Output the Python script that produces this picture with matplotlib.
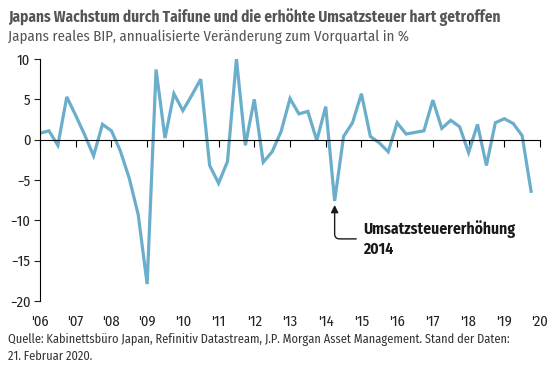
import numpy as np
import matplotlib.pyplot as plt

# Japan real GDP, annualised q/q change in %, 2006Q1 - 2019Q4
gdp = [0.8, 1.1, -0.7, 5.3, 3.0, 0.6, -2.0, 1.9,
       1.1, -1.4, -4.8, -9.3, -17.9, 8.7, 0.2, 5.7,
       3.6, 5.5, 7.5, -3.2, -5.4, -2.7, 10.0, -0.7,
       5.0, -2.8, -1.5, 1.0, 5.1, 3.2, 3.5, -0.1,
       4.1, -7.6, 0.4, 2.1, 5.7, 0.4, -0.4, -1.5,
       2.1, 0.7, 0.9, 1.1, 4.9, 1.4, 2.4, 1.6,
       -1.6, 1.9, -3.2, 2.1, 2.6, 2.0, 0.5, -6.4]
quarters = 2006 + np.arange(len(gdp)) * 0.25

years = list(range(2006, 2021))
year_labels = ["'%02d" % (y % 100) for y in years]
yticks = [10, 5, 0, -5, -10, -15, -20]

title = "Japans Wachstum durch Taifune und die erhöhte Umsatzsteuer hart getroffen"
subtitle = "Japans reales BIP, annualisierte Veränderung zum Vorquartal in %"
source = ("Quelle: Kabinettsbüro Japan, Refinitiv Datastream, J.P. Morgan Asset Management. Stand der Daten:\n"
          "21. Februar 2020.")

plt.rcParams['font.family'] = ['Fira Sans Condensed', 'DejaVu Sans']

fig = plt.figure(figsize=(5.6, 3.7), dpi=100)
ax = fig.add_axes([40 / 560, 69 / 370, 500 / 560, 242 / 370])

ax.plot(quarters, gdp, color='#6aaecb', lw=2.3, solid_joinstyle='miter')

ax.set_xlim(2006, 2020)
ax.set_ylim(-20, 10)
ax.set_yticks(yticks)
ax.tick_params(axis='y', direction='out', length=4, width=0.8, labelsize=10.5,
               colors='#222222', pad=3)

# zero line with year ticks, labels at the bottom
ax.spines['bottom'].set_position(('data', 0))
ax.spines['right'].set_visible(False)
ax.spines['top'].set_visible(False)
ax.spines['left'].set_linewidth(0.8)
ax.spines['bottom'].set_linewidth(0.8)
ax.set_xticks(years)
ax.tick_params(axis='x', direction='out', length=5, width=0.8, labelbottom=False)

sec = ax.secondary_xaxis('bottom')
sec.set_xticks(years, year_labels)
sec.tick_params(length=0, labelsize=10.5, colors='#222222', pad=10)
sec.spines['bottom'].set_visible(False)

ax.annotate("Umsatzsteuererhöhung\n2014", xy=(2014.25, -8.1), xytext=(2015.05, -12.3),
            fontsize=11.2, fontweight='bold', color='#1a1a1a', va='center',
            linespacing=1.25,
            arrowprops=dict(arrowstyle='-|>', color='#1a1a1a', lw=1.0,
                            mutation_scale=11, shrinkA=3, shrinkB=0,
                            connectionstyle='angle,angleA=0,angleB=90,rad=5'))

fig.text(8 / 560, 1 - 17 / 370, title, fontsize=11, fontweight='bold',
         color='#555555', va='center')
fig.text(8 / 560, 1 - 37 / 370, subtitle, fontsize=10.7, color='#555555', va='center')
fig.text(8 / 560, 1 - 333 / 370, source, fontsize=8.9, color='#333333',
         va='top', linespacing=1.45)

fig.savefig('out.png', dpi=100)
